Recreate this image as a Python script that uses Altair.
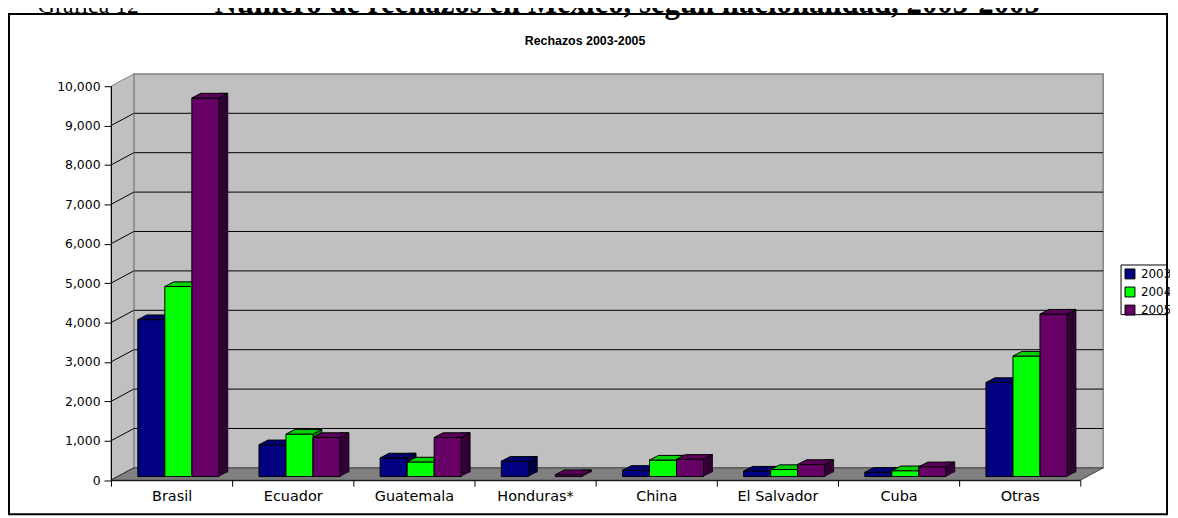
import altair as alt
import pandas as pd

# ---------------- data ----------------
CATEGORIES = ["Brasil", "Ecuador", "Guatemala", "Honduras*", "China",
              "El Salvador", "Cuba", "Otras"]
YEARS = ["2003", "2004", "2005"]
V2003 = [3985, 810, 474, 390, 160, 140, 110, 2390]
V2004 = [4825, 1080, 373, None, 420, 180, 150, 3060]
V2005 = [9610, 994, 994, 50, 440, 310, 250, 4125]
Y_TICKS = [0, 1000, 2000, 3000, 4000, 5000, 6000, 7000, 8000, 9000, 10000]
TITLE = "Rechazos 2003-2005"
HEAD_A = "Gráfica 12"
HEAD_B = "Número de rechazos en México, según nacionalidad, 2003-2005"

# ---------------- style ----------------
FRONT = ["#000080", "#00ff00", "#660066"]
SIDE = ["#000040", "#008000", "#330033"]
TOP = ["#000070", "#00d000", "#5a005a"]
WALL = "#c0c0c0"
WALL_EDGE = "#808080"
FLOOR = "#808080"
FONT = "DejaVu Sans"

W, H = 976, 396.7          # plot (front plane) size
WX, WY = 23, 12.4          # depth of walls
BW = 27.2                  # bar width
DX, DY = 9, 4.7            # bar depth
FX, FY = 6.8, 3.6          # bar front plane shift

rows = []
for year, vals in zip(YEARS, [V2003, V2004, V2005]):
    for c, v in zip(CATEGORIES, vals):
        rows.append({"pais": c, "anio": year, "valor": v})
df = pd.DataFrame(rows).dropna()
df["base"] = 0
one = pd.DataFrame({"base": [0], "techo": [Y_TICKS[-1]]})
ticks_df = pd.DataFrame({"v": Y_TICKS})

X_AXIS = alt.Axis(title=None, labelAngle=0, tickBand="extent", domainColor="black",
                  tickColor="black", tickSize=6, labelPadding=3, labelFont=FONT,
                  labelFontSize=14.5, labelColor="black", labelOverlap=False,
                  zindex=1, grid=False)
Y_AXIS = alt.Axis(title=None, values=Y_TICKS, format=",.0f", domainColor="black",
                  tickColor="black", tickSize=7, labelPadding=4, labelFont=FONT,
                  labelFontSize=12.5, labelColor="black", zindex=1, grid=False)
X_SCALE = alt.Scale(type="band", domain=CATEGORIES, paddingInner=0, paddingOuter=0)
Y_SCALE = alt.Scale(domain=[0, 10000], nice=False, zero=True)


def x_enc():
    return alt.X("pais:N", scale=X_SCALE, axis=X_AXIS)


def y_enc(field="valor"):
    return alt.Y(f"{field}:Q", scale=Y_SCALE, axis=Y_AXIS)


def poly_point(path, fill, stroke=None, **kw):
    props = dict(shape=path, size=4, filled=True, fill=fill, opacity=1)
    if stroke:
        props.update(stroke=stroke, strokeWidth=1)
    else:
        props.update(strokeWidth=0)
    props.update(kw)
    return props


layers = []

# back wall
layers.append(
    alt.Chart(one).mark_rect(fill=WALL, stroke=WALL_EDGE, strokeWidth=1.5,
                             xOffset=WX, x2Offset=WX, yOffset=-WY, y2Offset=-WY)
    .encode(x=alt.value(0), x2=alt.value(W), y=y_enc("techo"), y2="base:Q")
)
# gridlines on back wall
layers.append(
    alt.Chart(ticks_df).transform_filter("datum.v > 0 && datum.v < 10000")
    .mark_rule(color="black", strokeWidth=1, xOffset=WX, x2Offset=WX, yOffset=-WY)
    .encode(x=alt.value(0), x2=alt.value(W), y=y_enc("v"))
)
# left side wall
layers.append(
    alt.Chart(one).mark_point(**poly_point(
        f"M0,0L0,{-H}L{WX},{-H - WY}L{WX},{-WY}Z", WALL, WALL_EDGE))
    .encode(x=alt.value(0), y=y_enc("base"))
)
# diagonals on side wall
layers.append(
    alt.Chart(ticks_df).transform_filter("datum.v < 10000")
    .mark_point(shape=f"M0,0L{WX},{-WY}", size=4, filled=False, stroke="black",
                strokeWidth=1, opacity=1)
    .encode(x=alt.value(0), y=y_enc("v"))
)
# floor
layers.append(
    alt.Chart(one).mark_point(**poly_point(
        f"M0,0L{WX},{-WY}L{W + WX},{-WY}L{W},0Z", FLOOR, "#404040"))
    .encode(x=alt.value(0), y=y_enc("base"))
)

# bars (pseudo 3D)
LEGEND = alt.Legend(title=None, orient="none", legendX=1017, legendY=180,
                    symbolType="square", symbolSize=100, symbolStrokeColor="black",
                    symbolStrokeWidth=1, labelFont=FONT, labelFontSize=12,
                    labelColor="black", labelOffset=5, padding=3, rowPadding=4.2)
for j, year in enumerate(YEARS):
    base = alt.Chart(df).transform_filter(alt.datum.anio == year)
    cx = FX + (j - 1) * BW
    side = base.mark_bar(width=DX, xOffset=cx + BW / 2 + DX / 2, yOffset=-FY - DY,
                         y2Offset=-FY - DY, color=SIDE[j], stroke="black",
                         strokeWidth=0.8).encode(
        x=x_enc(), y=y_enc(), y2="base:Q")
    tri = base.mark_point(**poly_point(
        f"M0,0L0,{-DY - 1}L{DX},{-DY - 1}L{DX},{-DY}Z", SIDE[j]),
        xOffset=cx + BW / 2, yOffset=-FY).encode(x=x_enc(), y=y_enc("base"))
    front = base.mark_bar(width=BW, xOffset=cx, yOffset=-FY, y2Offset=-FY,
                          stroke="black", strokeWidth=1, opacity=1).encode(
        x=x_enc(), y=y_enc(), y2="base:Q",
        color=alt.Color("anio:N", scale=alt.Scale(domain=YEARS, range=FRONT),
                        legend=LEGEND))
    top = base.mark_point(**poly_point(
        f"M0,0L{DX},{-DY}L{BW + DX},{-DY}L{BW},0Z", TOP[j], "black"),
        xOffset=cx - BW / 2, yOffset=-FY).encode(x=x_enc(), y=y_enc())
    layers += [side, tri, front, top]

# frame, legend box and titles
layers.append(
    alt.Chart(one).mark_rect(fill="transparent", stroke="black", strokeWidth=2)
    .encode(x=alt.value(-102.7), x2=alt.value(1063.3), y=alt.value(-72.7), y2=alt.value(431))
)
layers.append(
    alt.Chart(one).mark_rect(fill="transparent", stroke="black", strokeWidth=1)
    .encode(x=alt.value(1017), x2=alt.value(1063.3), y=alt.value(180), y2=alt.value(230))
)
layers.append(
    alt.Chart(one).mark_text(text=TITLE, font="Liberation Sans", fontWeight="bold",
                             fontSize=12.5, align="center", baseline="middle", color="black")
    .encode(x=alt.value(477.3), y=alt.value(-45))
)
layers.append(
    alt.Chart(one).mark_text(text=HEAD_A, font="Liberation Serif", fontSize=24,
                             align="left", baseline="alphabetic", color="black")
    .encode(x=alt.value(-73.7), y=alt.value(-74))
)
layers.append(
    alt.Chart(one).mark_text(text=HEAD_B, font="Liberation Serif", fontWeight="bold",
                             fontSize=31, align="left", baseline="alphabetic", color="black")
    .encode(x=alt.value(104.3), y=alt.value(-74))
)

chart = alt.layer(*layers).properties(
    width=W, height=H,
    autosize=alt.AutoSizeParams(type="none"),
    padding={"left": 103.7, "top": 77, "right": 90.3, "bottom": 36.3},
    background="white",
).configure_view(stroke="transparent")

chart.save("out.html", embed_options={"renderer": "svg", "actions": False})
